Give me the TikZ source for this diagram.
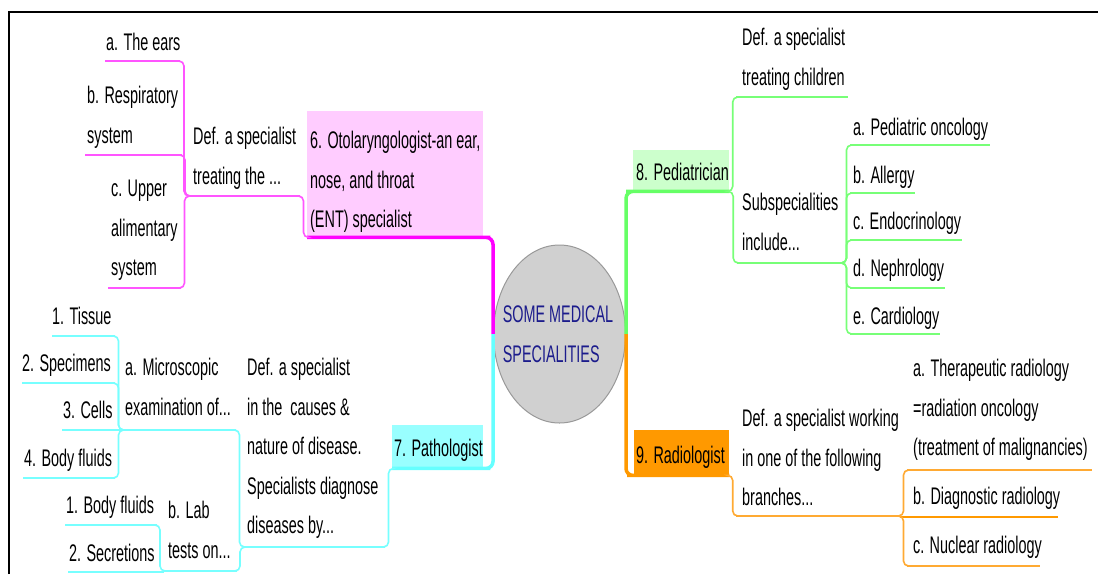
\documentclass[tikz,border=0pt]{standalone}
\usepackage{fontspec}
\setmainfont{Liberation Sans}[FakeStretch=0.6]
\usetikzlibrary{calc,shapes.geometric}
\newcommand\kz{\rule[-5.25pt]{0pt}{28pt}}
\definecolor{magT}{HTML}{FF00FF}
\definecolor{magt}{HTML}{FF55FF}
\definecolor{cyaT}{HTML}{66FFFF}
\definecolor{cyat}{HTML}{77FFFF}
\definecolor{grnT}{HTML}{66FF66}
\definecolor{grnt}{HTML}{77FF77}
\definecolor{orgT}{HTML}{FF9900}
\definecolor{orgt}{HTML}{FFAA33}
\definecolor{entfill}{HTML}{FFCCFF}
\definecolor{pathfill}{HTML}{99FFFF}
\definecolor{pedfill}{HTML}{CCFFCC}
\definecolor{radfill}{HTML}{FF9900}
\definecolor{ellf}{HTML}{D0D0D0}
\definecolor{ellb}{HTML}{999999}
\definecolor{navytext}{HTML}{1C1C8C}
\newcommand\conn[3]{\draw[#1] (#2) -| ($(#2)!.5!(#3)$) |- (#3);}
\begin{document}
\begin{tikzpicture}[x=1pt,y=-1pt,
  lbl/.style={inner sep=0pt, anchor=west, align=left,
    font=\fontsize{24}{39.5}\selectfont, text=black},
  boxbg/.style={inner sep=0pt, anchor=north west, draw=none},
  thickln/.style={line width=3.5pt, rounded corners=7pt},
  thinln/.style={line width=1.6pt, rounded corners=5pt},
  uln/.style={line width=1.8pt},
]
\useasboundingbox (0,0) rectangle (1098,574);
\draw[line width=1.2pt] (9,574) -- (9,12) -- (1098,12);

% ---------- boxes ----------
\node[boxbg, fill=entfill, minimum width=176pt, minimum height=126pt] (ent) at (307,111) {};
\node[boxbg, fill=pathfill, minimum width=91pt, minimum height=43pt] (path) at (392,425) {};
\node[boxbg, fill=pedfill, minimum width=96pt, minimum height=41pt] (ped) at (633,150) {};
\node[boxbg, fill=radfill, minimum width=95pt, minimum height=45pt] (rad) at (634,430) {};
\node[ellipse, draw=ellb, fill=ellf, line width=1pt, minimum width=132pt,
      minimum height=178pt, inner sep=0pt] (center) at (559.5,334) {};

% ---------- underline coordinates ----------
\coordinate (entdef-l) at (188,196); \coordinate (entdef-r) at (300,196);
\coordinate (ears-l) at (105,61);    \coordinate (ears-r) at (180,61);
\coordinate (resp-l) at (85,155);    \coordinate (resp-r) at (182,155);
\coordinate (upper-l) at (108,288);  \coordinate (upper-r) at (181,288);

\coordinate (pathdef-l) at (243,547); \coordinate (pathdef-r) at (385,547);
\coordinate (micro-l) at (122,430);   \coordinate (micro-r) at (236,430);
\coordinate (lab-l) at (163,571);     \coordinate (lab-r) at (237,571);
\coordinate (tissue-l) at (52,336);   \coordinate (tissue-r) at (115,336);
\coordinate (spec-l) at (22,383);     \coordinate (spec-r) at (115,383);
\coordinate (cells-l) at (62,430);    \coordinate (cells-r) at (122,430);
\coordinate (fluids-l) at (23,478);   \coordinate (fluids-r) at (115,478);
\coordinate (bf-l) at (65,525);       \coordinate (bf-r) at (157,525);
\coordinate (secr-l) at (68,572);     \coordinate (secr-r) at (163,572);

\coordinate (peddef-l) at (736,97);   \coordinate (peddef-r) at (848,97);
\coordinate (subsp-l) at (737,263);   \coordinate (subsp-r) at (843,263);
\coordinate (onc-l) at (850,145);     \coordinate (onc-r) at (990,145);
\coordinate (allergy-l) at (850,193); \coordinate (allergy-r) at (915,193);
\coordinate (endo-l) at (850,240);    \coordinate (endo-r) at (962,240);
\coordinate (neph-l) at (850,288);    \coordinate (neph-r) at (945,288);
\coordinate (cardio-l) at (850,334);  \coordinate (cardio-r) at (940,334);

\coordinate (raddef-l) at (736,516);  \coordinate (raddef-r) at (900,516);
\coordinate (therap-l) at (907,470);  \coordinate (therap-r) at (1092,470);
\coordinate (diag-l) at (900,517);    \coordinate (diag-r) at (1058,517);
\coordinate (nuc-l) at (907,566);     \coordinate (nuc-r) at (1040,566);

% ---------- magenta branch ----------
\draw[thickln, magT] (ent.south west) -- (ent.south east) -| (center.west);
\conn{thinln, magt}{entdef-r}{ent.south west}
\draw[uln, magt] (entdef-l) -- (entdef-r);
\foreach \n in {ears,resp,upper}{
  \draw[uln, magt] (\n-l) -- (\n-r);
  \conn{thinln, magt}{\n-r}{entdef-l}
}

% ---------- cyan branch ----------
\draw[thickln, cyaT] (path.south west) -- (path.south east) -| (center.west);
\conn{thinln, cyat}{pathdef-r}{path.south west}
\draw[uln, cyat] (pathdef-l) -- (pathdef-r);
\draw[uln, cyat] (micro-l) -- (micro-r);
\draw[uln, cyat] (lab-l) -- (lab-r);
\conn{thinln, cyat}{micro-r}{pathdef-l}
\conn{thinln, cyat}{lab-r}{pathdef-l}
\foreach \n in {tissue,spec,fluids}{
  \draw[uln, cyat] (\n-l) -- (\n-r);
  \conn{thinln, cyat}{\n-r}{micro-l}
}
\draw[uln, cyat] (cells-l) -- (cells-r) -- (micro-l);
\draw[uln, cyat] (bf-l) -- (bf-r);
\conn{thinln, cyat}{bf-r}{lab-l}
\draw[uln, cyat] (secr-l) -- (secr-r) -- (lab-l);

% ---------- green branch ----------
\draw[thickln, grnT] (center.east) |- (ped.south west) -- (ped.south east);
\draw[uln, grnt] (peddef-l) -- (peddef-r);
\draw[uln, grnt] (subsp-l) -- (subsp-r);
\conn{thinln, grnt}{ped.south east}{peddef-l}
\conn{thinln, grnt}{ped.south east}{subsp-l}
\foreach \n in {onc,allergy,endo,neph,cardio}{
  \draw[uln, grnt] (\n-l) -- (\n-r);
  \conn{thinln, grnt}{subsp-r}{\n-l}
}

% ---------- orange branch ----------
\draw[thickln, orgT] (center.east) |- (rad.south west) -- (rad.south east);
\conn{thinln, orgt}{rad.south east}{raddef-l}
\draw[uln, orgt] (raddef-l) -- (raddef-r);
\draw[uln, orgt] (therap-l) -- (therap-r);
\conn{thinln, orgt}{raddef-r}{therap-l}
\draw[uln, orgT] (diag-l) -- (diag-r);
\draw[uln, orgt] (nuc-l) -- (nuc-r);
\conn{thinln, orgt}{raddef-r}{nuc-l}

% ---------- texts ----------
\node[lbl, anchor=center, text=navytext] (centerT) at (558,333.5) {\kz SOME MEDICAL\\\kz SPECIALITIES};

\node[lbl] (entT) at (310,179.5) {\kz 6. Otolaryngologist-an ear,\\\kz nose, and throat\\\kz (ENT) specialist};
\node[lbl] (entdef) at (193,155.75) {\kz Def. a specialist\\\kz treating the ...};
\node[lbl] (ears) at (106,42) {\kz a. The ears};
\node[lbl] (resp) at (87,114.75) {\kz b. Respiratory\\\kz system};
\node[lbl] (upper) at (111,227.5) {\kz c. Upper\\\kz alimentary\\\kz system};

\node[lbl] (pathT) at (394,448) {\kz 7. Pathologist};
\node[lbl] (pathdef) at (247,446) {\kz Def. a specialist\\\kz in the\ \ causes \&\\\kz nature of disease.\\\kz Specialists diagnose\\\kz diseases by...};
\node[lbl] (micro) at (125,386.75) {\kz a. Microscopic\\\kz examination of...};
\node[lbl] (lab) at (168,529.75) {\kz b. Lab\\\kz tests on...};
\node[lbl] (tissue) at (52,316) {\kz 1. Tissue};
\node[lbl] (spec) at (22,363) {\kz 2. Specimens};
\node[lbl] (cells) at (63,410) {\kz 3. Cells};
\node[lbl] (fluids) at (24,458) {\kz 4. Body fluids};
\node[lbl] (bf) at (66,505) {\kz 1. Body fluids};
\node[lbl] (secr) at (69,553) {\kz 2. Secretions};

\node[lbl] (pedT) at (636,172) {\kz 8. Pediatrician};
\node[lbl] (peddef) at (742,56.75) {\kz Def. a specialist\\\kz treating children};
\node[lbl] (subsp) at (742,221.75) {\kz Subspecialities\\\kz include...};
\node[lbl] (onc) at (853,127) {\kz a. Pediatric oncology};
\node[lbl] (allergy) at (853,175) {\kz b. Allergy};
\node[lbl] (endo) at (853,221) {\kz c. Endocrinology};
\node[lbl] (neph) at (853,268) {\kz d. Nephrology};
\node[lbl] (cardio) at (853,316) {\kz e. Cardiology};

\node[lbl] (radT) at (636,455) {\kz 9. Radiologist};
\node[lbl] (raddef) at (742,457.5) {\kz Def. a specialist working\\\kz in one of the following\\\kz branches...};
\node[lbl] (therap) at (913,407.5) {\kz a. Therapeutic radiology\\\kz =radiation oncology\\\kz (treatment of malignancies)};
\node[lbl] (diag) at (913,496) {\kz b. Diagnostic radiology};
\node[lbl] (nuc) at (913,545) {\kz c. Nuclear radiology};
\end{tikzpicture}
\end{document}
